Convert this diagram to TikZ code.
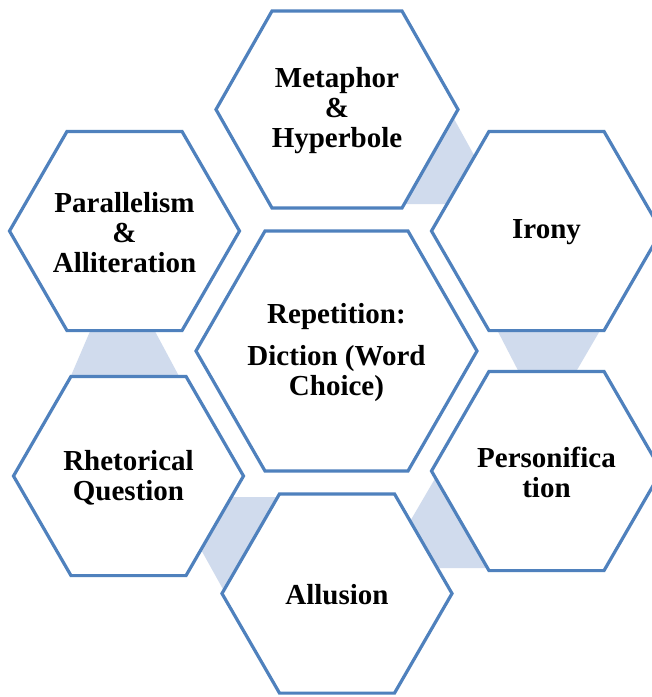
\documentclass[tikz,border=0pt]{standalone}
\usepackage{fontspec}
\setmainfont{Liberation Serif}
\definecolor{hexblue}{HTML}{4F81BD}
\definecolor{hexlink}{HTML}{D0DBED}
\tikzset{
  hexs/.style={draw=hexblue,line width=3.2pt,fill=white,line join=miter},
  linkfill/.style={fill=hexlink,draw=none},
  lbl/.style={font=\bfseries\fontsize{29}{30}\selectfont,align=center,inner sep=0pt,text=black,yshift=-1.5pt}
}
% #1 centre, #2 half width, #3 half top edge, #4 half height
\newcommand\hexat[4]{\draw[hexs] (#1) +(-#2,0) -- +(-#3,-#4) -- +(#3,-#4) -- +(#2,0) -- +(#3,#4) -- +(-#3,#4) -- cycle;}
\begin{document}
\begin{tikzpicture}[x=1pt,y=-1pt]
\useasboundingbox (0,0) rectangle (652,697);
\clip (0,0) rectangle (652,697);
\fill[white] (0,0) rectangle (652,697);
% centres
\coordinate (met) at (337,109.5);
\coordinate (par) at (124.5,231);
\coordinate (iro) at (546.5,231);
\coordinate (cen) at (336.5,351);
\coordinate (rhe) at (128.5,476);
\coordinate (per) at (546.5,471);
\coordinate (all) at (337,593.5);
% link pieces (behind hexagons)
\fill[linkfill] (453,117) -- (501,204) -- (400,204) -- (400,150) -- cycle;
\fill[linkfill] (493,322) -- (605,322) -- (570,382) -- (524,382) -- cycle;
\fill[linkfill] (440,470) -- (405,530) -- (430,568) -- (495,568) -- cycle;
\fill[linkfill] (225,497) -- (290,497) -- (240,600) -- (229,600) -- (179,510) -- cycle;
\fill[linkfill] (94,322) -- (150,322) -- (180,378) -- (70,378) -- cycle;
% hexagons
\hexat{met}{121}{65}{98.5}
\hexat{par}{115}{57.5}{99.6}
\hexat{iro}{115}{57.5}{99.6}
\hexat{cen}{140.5}{71.5}{120}
\hexat{rhe}{115}{57.5}{99.6}
\hexat{per}{115}{57.5}{99.6}
\hexat{all}{115}{57.5}{99.6}
% labels
\node[lbl] (tmet) at (met) {Metaphor\\\&\\Hyperbole};
\node[lbl] (tpar) at (par) {Parallelism\\\&\\Alliteration};
\node[lbl] (tiro) at (iro) {Irony};
\node[lbl] (tcen) at (cen) {Repetition:\\[12pt]Diction (Word\\Choice)};
\node[lbl] (trhe) at (rhe) {Rhetorical\\Question};
\node[lbl] (tper) at (per) {Personifica\\tion};
\node[lbl] (tall) at (all) {Allusion};
\end{tikzpicture}
\end{document}
